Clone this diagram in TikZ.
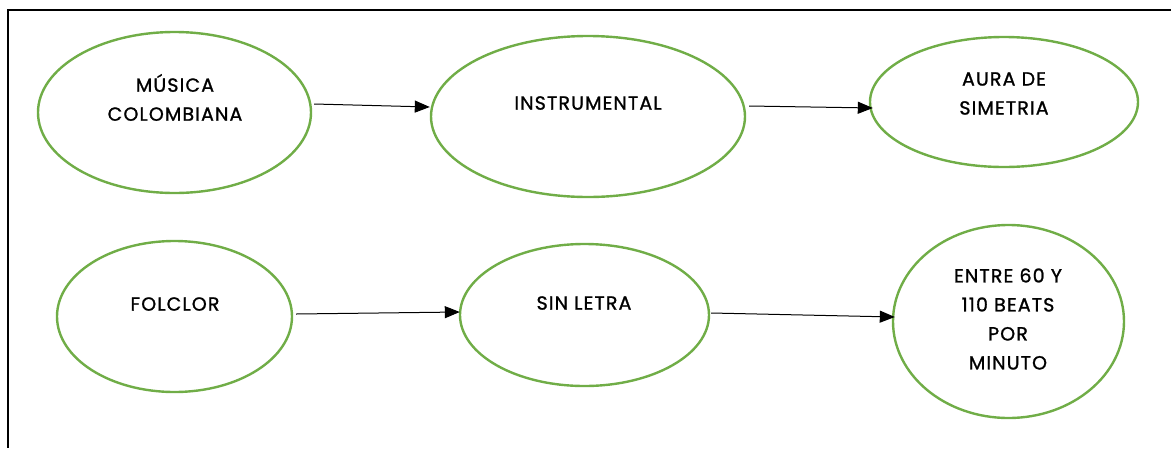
\documentclass[tikz,border=0pt]{standalone}
\usepackage{fontspec}
\setmainfont{Poppins}[LetterSpace=6,FakeBold=1.2]
\usetikzlibrary{shapes.geometric,arrows.meta}
\definecolor{leaf}{RGB}{112,173,71}
\tikzset{
  bubble/.style={draw=leaf, line width=2.4pt, ellipse, inner sep=0pt},
  caption/.style={font=\fontsize{19}{29}\selectfont, align=center, inner sep=0pt},
  link/.style={line width=1pt, -{Triangle[length=15pt,width=12pt]}},
  frame/.style={line width=2pt}
}
\begin{document}
\begin{tikzpicture}[x=1pt,y=-1pt]
\useasboundingbox (0,0) rectangle (1171,448);
% open frame: top and left edges
\coordinate (ftl) at (8,10);
\coordinate (ftr) at (1171,10);
\coordinate (fbl) at (8,448);
\draw[frame] (ftr) -- (ftl) -- (fbl);

% ellipses
\node[bubble, minimum width=273pt, minimum height=161pt] (e1) at (174.5,112.5) {};
\node[bubble, minimum width=314pt, minimum height=161pt] (e2) at (588,116.5) {};
\node[bubble, minimum width=268pt, minimum height=130pt] (e3) at (1004,102) {};
\node[bubble, minimum width=235pt, minimum height=151pt] (e4) at (174.5,316.5) {};
\node[bubble, minimum width=249pt, minimum height=142pt] (e5) at (584.5,315) {};
\node[bubble, minimum width=231pt, minimum height=193pt] (e6) at (1008.5,321.5) {};

% texts
\node[caption] (t1) at (175,97.5) {MÚSICA\\COLOMBIANA};
\node[caption] (t2) at (588,103) {INSTRUMENTAL};
\node[caption] (t3) at (1004,93.5) {AURA DE\\SIMETRIA};
\node[caption] (t4) at (175,304) {FOLCLOR};
\node[caption] (t5) at (584,303) {SIN LETRA};
\node[caption] (t6) at (1008,319) {ENTRE 60 Y\\110 BEATS\\POR\\MINUTO};

% connectors
\draw[link] ([shift={(2,-8.5)}]e1.east) -- ([shift={(0,-9.5)}]e2.west);
\draw[link] ([shift={(3,-10.5)}]e2.east) -- ([shift={(4,6)}]e3.west);
\draw[link] ([shift={(3,-2.5)}]e4.east) -- ([shift={(1,-3)}]e5.west);
\draw[link] ([shift={(1,-2)}]e5.east) -- ([shift={(3,-4.5)}]e6.west);
\end{tikzpicture}
\end{document}
